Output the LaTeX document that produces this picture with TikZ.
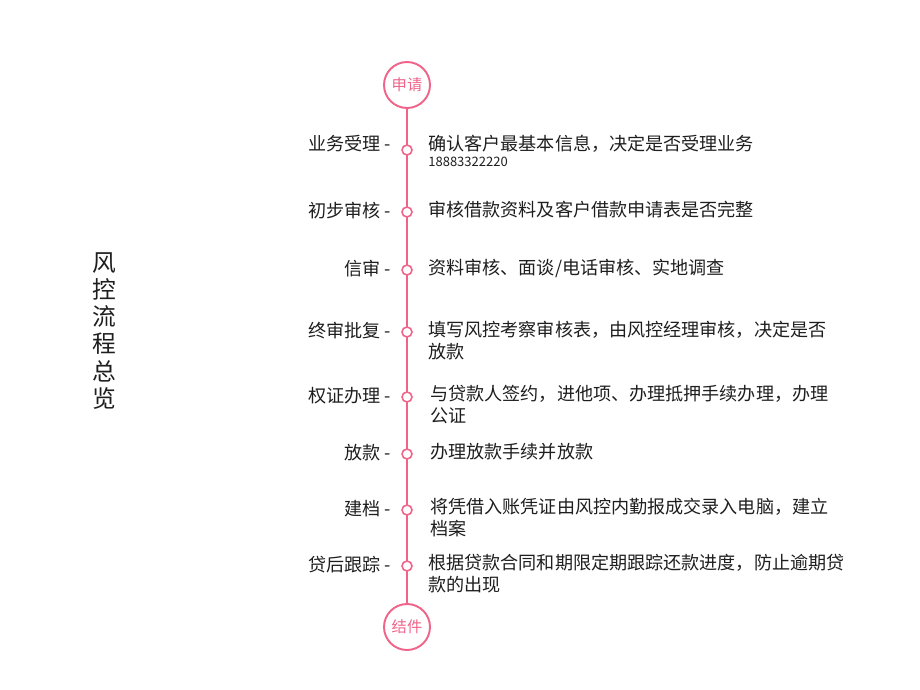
\documentclass[tikz,border=0pt]{standalone}
\usepackage{fontspec}
\setmainfont{Noto Sans CJK SC}
\usepackage{tikz}
\usetikzlibrary{positioning}
\definecolor{flowpink}{RGB}{240,100,138}
\definecolor{flowtext}{RGB}{30,30,30}
\tikzstyle{title} = [align=center, inner sep=0pt, text=flowtext, font=\fontsize{13.5}{15.4}\selectfont]
\tikzstyle{stage} = [circle, draw=flowpink, line width=1.1pt, fill=white, minimum size=0.92cm, inner sep=0pt, text=flowpink, font=\fontsize{8.7}{10}\selectfont]
\tikzstyle{spine} = [draw=flowpink, line width=1.1pt]
\tikzstyle{dot} = [circle, draw=flowpink, line width=0.9pt, fill=white, minimum size=0.2cm, inner sep=0pt]
\tikzstyle{steplabel} = [inner sep=0pt, text=flowtext, font=\fontsize{10.3}{12.4}\selectfont]
\tikzstyle{stepinfo} = [anchor=north west, align=left, inner sep=0pt, text=flowtext, font=\fontsize{10.3}{12.2}\selectfont]
\tikzstyle{stepnum} = [anchor=north west, inner sep=0pt, text=flowtext, font=\fontsize{7.4}{8.5}\selectfont]
\begin{document}
\begin{tikzpicture}[x=0.02cm, y=-0.02cm]
\useasboundingbox (0,0) rectangle (920,690);
\node (heading) [title] at (104,331) {风\\控\\流\\程\\总\\览};

\node (apply) [stage] at (407,85) {申请};
\node (close) [stage] at (407,627) {结件};
\draw [spine] (apply) -- (close);

\node (d1) [dot] at (407,150) {};
\node (d2) [dot] at (407,212) {};
\node (d3) [dot] at (407,270) {};
\node (d4) [dot] at (407,332) {};
\node (d5) [dot] at (407,397) {};
\node (d6) [dot] at (407,454) {};
\node (d7) [dot] at (407,510) {};
\node (d8) [dot] at (407,566) {};

\node (l1) [steplabel, left=0.2cm of d1, yshift=3.5pt] {业务受理 -};
\node (l2) [steplabel, left=0.2cm of d2, yshift=1pt] {初步审核 -};
\node (l3) [steplabel, left=0.2cm of d3, yshift=1pt] {信审 -};
\node (l4) [steplabel, left=0.2cm of d4, yshift=1pt] {终审批复 -};
\node (l5) [steplabel, left=0.2cm of d5, yshift=1pt] {权证办理 -};
\node (l6) [steplabel, left=0.2cm of d6, yshift=1pt] {放款 -};
\node (l7) [steplabel, left=0.2cm of d7, yshift=1pt] {建档 -};
\node (l8) [steplabel, left=0.2cm of d8, yshift=1pt] {贷后跟踪 -};

\node (r1) [stepinfo] at (428,135) {确认客户最基本信息，决定是否受理业务};
\node (r1num) [stepnum] at (428,157) {18883322220};
\node (r2) [stepinfo] at (428,201) {审核借款资料及客户借款申请表是否完整};
\node (r3) [stepinfo] at (428,259) {资料审核、面谈/电话审核、实地调查};
\node (r4) [stepinfo] at (428,321) {填写风控考察审核表，由风控经理审核，决定是否\\放款};
\node (r5) [stepinfo] at (430,385) {与贷款人签约，进他项、办理抵押手续办理，办理\\公证};
\node (r6) [stepinfo] at (430,443) {办理放款手续并放款};
\node (r7) [stepinfo] at (430,498) {将凭借入账凭证由风控内勤报成交录入电脑，建立\\档案};
\node (r8) [stepinfo] at (428,554) {根据贷款合同和期限定期跟踪还款进度，防止逾期贷\\款的出现};
\end{tikzpicture}
\end{document}
